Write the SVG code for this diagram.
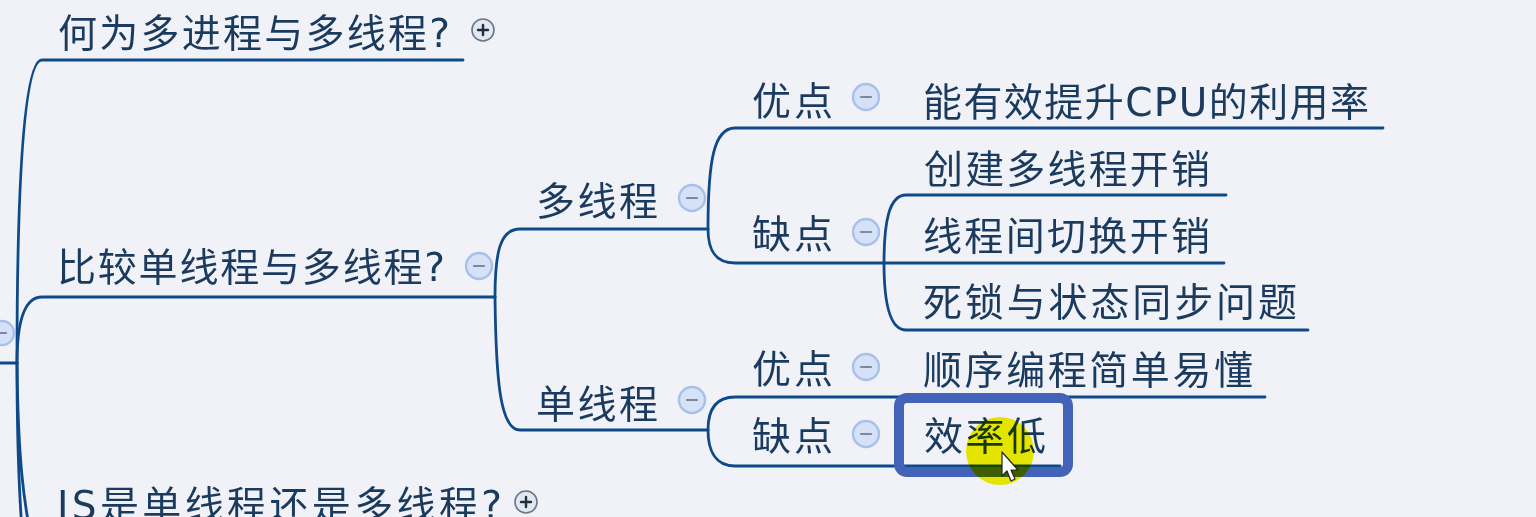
<svg xmlns="http://www.w3.org/2000/svg" width="1536" height="517" viewBox="0 0 1536 517">
<defs>
<style>
.t{font-family:"DejaVu Sans","Noto Sans CJK SC",sans-serif;font-size:39px;fill:#1a3a5e;}
.c{fill:none;stroke:#0f4a88;stroke-width:2.8;stroke-linecap:round;}
.mc{fill:#d5e1f6;stroke:#a9c0ea;stroke-width:2.4;}
.mm{stroke:#7a88a0;stroke-width:2.2;stroke-linecap:round;}
.pc{fill:#e3e8f0;stroke:#66768c;stroke-width:1.6;}
.pp{stroke:#1f2d3d;stroke-width:2.4;stroke-linecap:round;}
</style>
</defs>
<rect width="1536" height="517" fill="#f0f2f7"/>
<g id="connectors">
<path class="c" d="M0,363 L17,363"/>
<path class="c" d="M17,363 C17,180 24,60 42,60 L463,60"/>
<path class="c" d="M17,363 C17,322 24,297 42,297 L495,297"/>
<path class="c" d="M17,363 C17,440 19,490 22,530"/>
<path class="c" d="M17,363 C18,460 24,505 32,540"/>
<path class="c" d="M495,297 C495,252 500,229 520,229 L708,229"/>
<path class="c" d="M495,297 C496,380 500,430 520,430 L708,430"/>
<path class="c" d="M708,229 C708,160 714,128 735,128 L1383,128"/>
<path class="c" d="M708,229 C708,250 715,263 735,263 L1224,263"/>
<path class="c" d="M884,263 C884,222 889,195 906,195 L1226,195"/>
<path class="c" d="M884,263 C884,300 889,330 906,330 L1308,330"/>
<path class="c" d="M708,430 C708,410 715,397 735,397 L1265,397"/>
<path class="c" d="M708,430 C708,450 715,466 735,466 L1060,466"/>
</g>
<g id="root"><circle class="mc" cx="2" cy="333" r="12"/><line class="mm" x1="-3" y1="333" x2="6" y2="333"/></g>
<g id="n-what"><text class="t" x="58" y="47" textLength="392" lengthAdjust="spacing">何为多进程与多线程?</text><circle class="pc" cx="483" cy="30" r="11"/><line class="pp" x1="478" y1="30" x2="488" y2="30"/><line class="pp" x1="483" y1="25" x2="483" y2="35"/></g>
<g id="n-compare"><text class="t" x="57" y="281" textLength="388" lengthAdjust="spacing">比较单线程与多线程?</text><circle class="mc" cx="479" cy="266" r="13"/><line class="mm" x1="474" y1="266" x2="484" y2="266"/></g>
<g id="n-js"><text class="t" x="57" y="519" textLength="445" lengthAdjust="spacing">JS是单线程还是多线程?</text><circle class="pc" cx="526" cy="502" r="11"/><line class="pp" x1="521" y1="502" x2="531" y2="502"/><line class="pp" x1="526" y1="497" x2="526" y2="507"/></g>
<g id="n-multi"><text class="t" x="536" y="215" textLength="122" lengthAdjust="spacing">多线程</text><circle class="mc" cx="692" cy="198" r="13"/><line class="mm" x1="687" y1="198" x2="697" y2="198"/></g>
<g id="n-multi-pro"><text class="t" x="752" y="115" textLength="81" lengthAdjust="spacing">优点</text><circle class="mc" cx="866" cy="97" r="13"/><line class="mm" x1="861" y1="97" x2="871" y2="97"/></g>
<g id="n-multi-pro-1"><text class="t" x="923" y="116" textLength="446" lengthAdjust="spacing">能有效提升CPU的利用率</text></g>
<g id="n-multi-con"><text class="t" x="752" y="248" textLength="81" lengthAdjust="spacing">缺点</text><circle class="mc" cx="866" cy="232" r="13"/><line class="mm" x1="861" y1="232" x2="871" y2="232"/></g>
<g id="n-multi-con-1"><text class="t" x="924" y="183" textLength="286" lengthAdjust="spacing">创建多线程开销</text></g>
<g id="n-multi-con-2"><text class="t" x="923" y="250" textLength="287" lengthAdjust="spacing">线程间切换开销</text></g>
<g id="n-multi-con-3"><text class="t" x="923" y="316" textLength="374" lengthAdjust="spacing">死锁与状态同步问题</text></g>
<g id="n-single"><text class="t" x="536" y="418" textLength="122" lengthAdjust="spacing">单线程</text><circle class="mc" cx="692" cy="400" r="13"/><line class="mm" x1="687" y1="400" x2="697" y2="400"/></g>
<g id="n-single-pro"><text class="t" x="752" y="383" textLength="81" lengthAdjust="spacing">优点</text><circle class="mc" cx="866" cy="367" r="13"/><line class="mm" x1="861" y1="367" x2="871" y2="367"/></g>
<g id="n-single-pro-1"><text class="t" x="923" y="384" textLength="330" lengthAdjust="spacing">顺序编程简单易懂</text></g>
<g id="n-single-con"><text class="t" x="752" y="450" textLength="81" lengthAdjust="spacing">缺点</text><circle class="mc" cx="866" cy="434" r="13"/><line class="mm" x1="861" y1="434" x2="871" y2="434"/></g>
<g id="n-single-con-1"><text class="t" x="924" y="450" textLength="122" lengthAdjust="spacing">效率低</text>
<rect x="899" y="398" width="169" height="74" rx="8" fill="none" stroke="#4263b8" stroke-width="10"/></g>
<g id="cursor">
<circle cx="1000" cy="451" r="34" fill="#f2f200" style="mix-blend-mode:multiply"/>
<path d="M1002,452 L1002,476 L1007,471 L1011,481 L1015,479 L1011,470 L1018,470 Z" fill="#ffffff" stroke="#222222" stroke-width="1.2" stroke-linejoin="round"/>
</g>
</svg>
